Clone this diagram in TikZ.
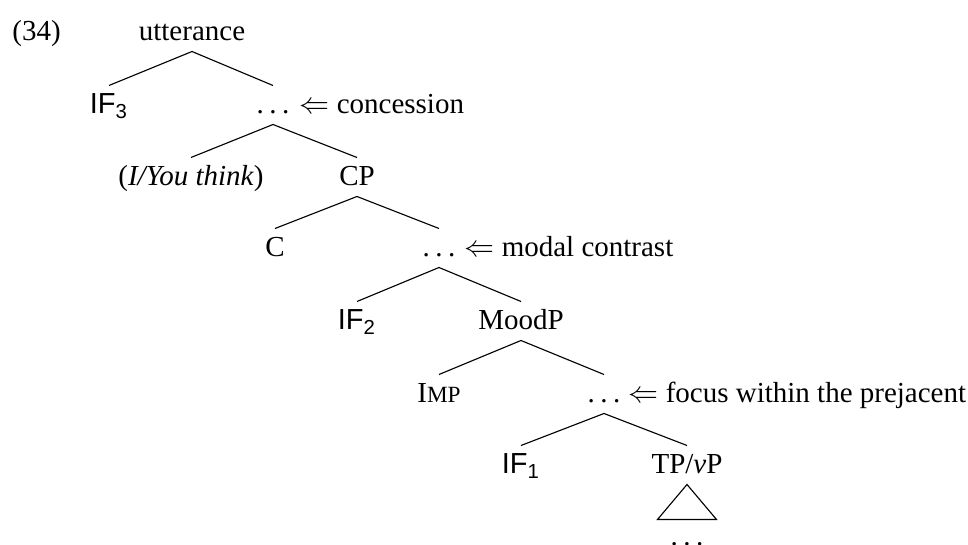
\documentclass[tikz,border=0pt]{standalone}
\usepackage{fontspec}
\setmainfont{Liberation Serif}
\setsansfont{Liberation Sans}
\newcommand{\IFlabel}[1]{\textsf{IF}\textsubscript{\sffamily #1}}
\newcommand{\spdots}{.\kern0.19em.\kern0.19em.}
\begin{document}
\begin{tikzpicture}[x=0.4pt,y=-0.4pt,
  font=\fontsize{11.6pt}{14pt}\selectfont,
  lbl/.style={anchor=base, inner xsep=0pt, inner ysep=2pt, text height=9.2pt, text depth=2pt},
  branch/.style={line width=0.45pt}]
\useasboundingbox (0,0) rectangle (968,545);
% labels
\node[lbl, anchor=base west] (ex) at (12,41) {(34)};
\node[lbl] (utt) at (192,41) {utterance};
\node[lbl] (if3) at (109,114) {\IFlabel{3}};
\node[lbl] (d1) at (273,114) {\spdots};
\node[lbl, anchor=base west] (c1) at (299,114) {$\Leftarrow$ concession};
\node[lbl] (think) at (191,186) {(\textit{I/You think})};
\node[lbl] (cp) at (357,186) {CP};
\node[lbl] (c) at (275,257) {C};
\node[lbl] (d2) at (439,257) {\spdots};
\node[lbl, anchor=base west] (c2) at (464,257) {$\Leftarrow$ modal contrast};
\node[lbl] (if2) at (357,330) {\IFlabel{2}};
\node[lbl] (mood) at (521,330) {MoodP};
\node[lbl] (imp) at (439,403) {I{\fontsize{9.3pt}{10pt}\selectfont MP}};
\node[lbl] (d3) at (604,403) {\spdots};
\node[lbl, anchor=base west] (c3) at (628,403) {$\Leftarrow$ focus within the prejacent};
\node[lbl] (if1) at (521,474) {\IFlabel{1}};
\node[lbl] (tp) at (687,474) {TP/\textit{v}P};
\node[lbl] (bot) at (687,546) {\spdots};
% branches
\draw[branch] (if3.north) -- (utt.south) -- (d1.north);
\draw[branch] (think.north) -- (d1.south) -- (cp.north);
\draw[branch] (c.north) -- (cp.south) -- (d2.north);
\draw[branch] (if2.north) -- (d2.south) -- (mood.north);
\draw[branch] (imp.north) -- (mood.south) -- (d3.north);
\draw[branch] (if1.north) -- (d3.south) -- (tp.north);
\draw[branch] (tp.south) -- ++(-29.5,35) -- ++(59,0) -- cycle;
\end{tikzpicture}
\end{document}
